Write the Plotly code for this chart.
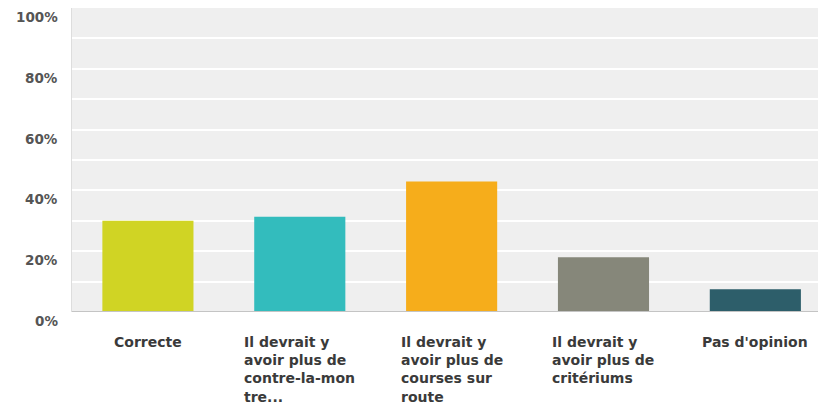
import plotly.graph_objects as go

categories = ["Correcte",
              "Il devrait y<br>avoir plus de<br>contre-la-mon<br>tre...",
              "Il devrait y<br>avoir plus de<br>courses sur<br>route",
              "Il devrait y<br>avoir plus de<br>critériums",
              "Pas d'opinion"]
values = [0.30, 0.313, 0.429, 0.18, 0.075]
colors = ["#d0d424", "#33bcbd", "#f6ad1b", "#86877a", "#2d5e6a"]
ytick_vals = [0, 0.2, 0.4, 0.6, 0.8, 1.0]
ytick_text = ["0%", "20%", "40%", "60%", "80%", "100%"]

FONT = "DejaVu Sans, Arial"
xpos = list(range(len(categories)))

fig = go.Figure()
fig.add_trace(go.Bar(x=xpos, y=values, marker=dict(color=colors, line=dict(width=0)),
                     width=0.6, hoverinfo="skip"))

for i, c in enumerate(categories):
    fig.add_annotation(x=i, y=0, xref="x", yref="paper", text=c, showarrow=False,
                       xanchor="center", yanchor="top", align="left", yshift=-20,
                       font=dict(family=FONT, size=14, color="#3a3a3a", weight="bold"))

for v, t in zip(ytick_vals, ytick_text):
    fig.add_annotation(x=0, y=v, xref="paper", yref="y", text=t, showarrow=False,
                       xanchor="right", yanchor="middle", xshift=-12, yshift=-9,
                       font=dict(family=FONT, size=13.5, color="#555555", weight="bold"))

fig.update_layout(
    width=826, height=404,
    margin=dict(l=64, r=0, t=0, b=100, pad=0, autoexpand=False),
    paper_bgcolor="white", plot_bgcolor="#efefef",
    showlegend=False,
    font=dict(family=FONT, size=14, color="#555555"),
    xaxis=dict(range=[-0.5, 4.518], showticklabels=False, showgrid=False, zeroline=False,
               showline=False, fixedrange=True, automargin=False),
    yaxis=dict(range=[0, 1], tickvals=ytick_vals, showticklabels=False,
               showgrid=True, gridcolor="white", gridwidth=1.5,
               minor=dict(dtick=0.1, showgrid=True, gridcolor="white", gridwidth=1.5),
               zeroline=False, showline=True, linecolor="#dddddd", linewidth=1,
               ticks="", fixedrange=True, automargin=False),
    shapes=[dict(type="line", xref="paper", yref="y", x0=0, x1=1, y0=0, y1=0,
                 line=dict(color="#c4c4c4", width=2))],
)

fig.write_html("out.html")
